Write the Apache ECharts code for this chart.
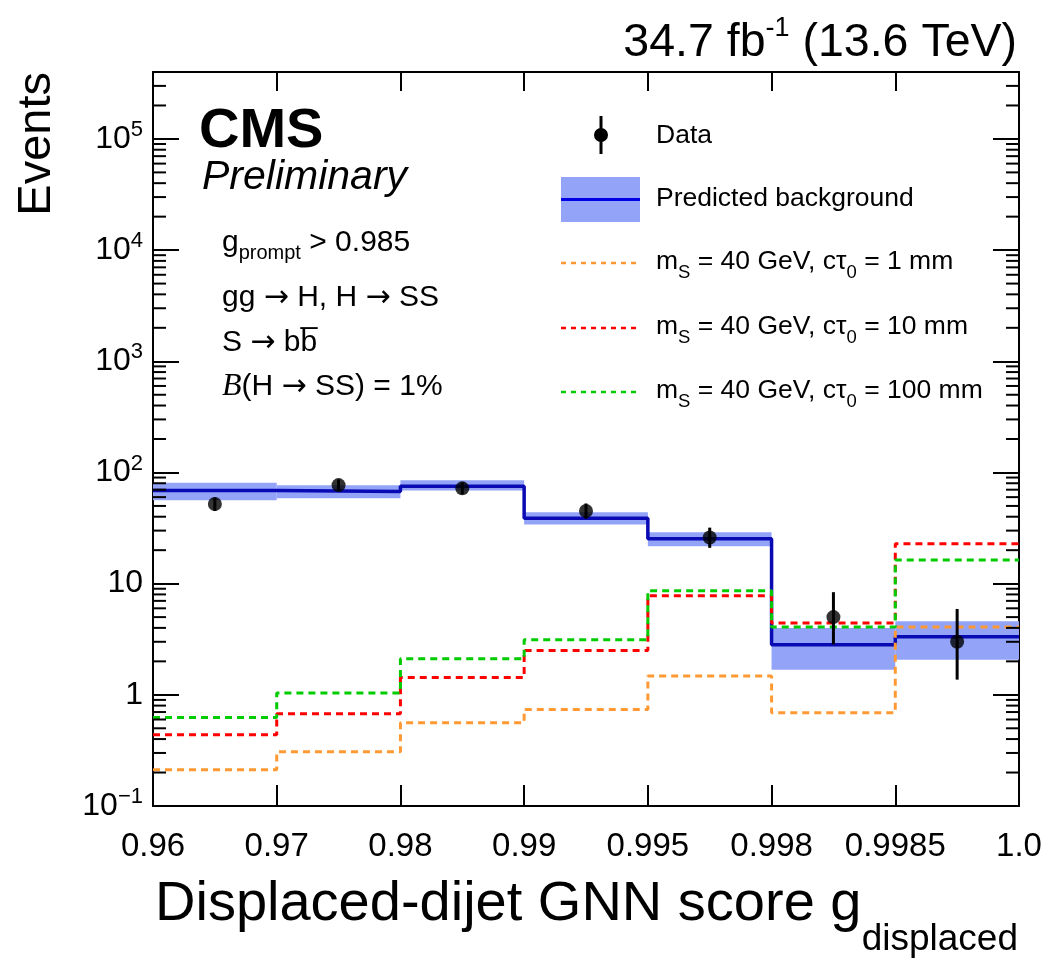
<!DOCTYPE html>
<html><head><meta charset="utf-8">
<script src="https://cdn.jsdelivr.net/npm/echarts@6/dist/echarts.min.js"></script>
<style>html,body{margin:0;padding:0;background:#fff}#c{width:1047px;height:960px}</style>
</head><body><div id="c"></div>
<script>
// ---- data ----
const binEdgeLabels = ['0.96','0.97','0.98','0.99','0.995','0.998','0.9985','1.0'];
const bkgValues = [69, 67.5, 75, 38.7, 25.4, 2.82, 3.33];
const bkgUp     = [80.7, 76.6, 85.3, 43.8, 29.0, 4.0, 4.58];
const bkgDown   = [56.2, 58.5, 69.0, 34.0, 21.7, 1.68, 2.07];
const dataValues = [52, 77, 72, 45, 26, 5, 3];
const dataUp     = [59.6, 86.6, 81.5, 52.6, 31.9, 8.38, 5.92];
const dataDown   = [45.0, 68.3, 63.6, 38.3, 21.0, 2.84, 1.37];
const sig1mm   = [0.212, 0.308, 0.56, 0.738, 1.48, 0.689, 4.07];
const sig10mm  = [0.437, 0.675, 1.43, 2.51, 7.8, 4.43, 22.8];
const sig100mm = [0.625, 1.04, 2.11, 3.13, 8.65, 4.07, 16.3];
const yMajorTicks = [0.1, 1, 10, 100, 1000, 10000, 100000];
const yMin = 0.1, yMax = 4e5;

const FONT = 'Liberation Sans, Arial, Helvetica, sans-serif';
const ARROWFONT = 'DejaVu Sans, sans-serif';
const BAND = '#93a3f8', BLUE = '#0a0ab4', ORANGE = '#ff9933', RED = '#ff0000', GREEN = '#00cc00';

function stepData(vals){ const d = vals.map((v,i)=>[i,v]); d.push([vals.length, vals[vals.length-1]]); return d; }

// minor tick positions of the log axis
const minorTicks = [];
for (let k=-1;k<=5;k++) for (let m=2;m<=9;m++){ const v=m*Math.pow(10,k); if(v<yMax) minorTicks.push([0,v]); }

const chart = echarts.init(document.getElementById('c'), null, {renderer:'canvas'});
const nBins = binEdgeLabels.length - 1;

function yLabel(v){
  const e = Math.round(Math.log10(v));
  if (Math.abs(v/Math.pow(10,e)-1) > 1e-6) return '';
  if (e===0) return '1';
  if (e===1) return '10';
  return '10{sup|' + (e<0 ? '\u2212'+(-e) : e) + '}';
}

const AF = 30, SF = 20;
const annRich = {
  n:{fontSize:AF, fontFamily:FONT, fill:'#000', lineHeight:40},
  s:{fontSize:SF, fontFamily:FONT, fill:'#000', verticalAlign:'bottom', lineHeight:SF},
  a:{fontSize:AF, fontFamily:ARROWFONT, fill:'#000', lineHeight:40},
  b:{fontSize:AF+2, fontFamily:'Liberation Serif, serif', fontStyle:'italic', fill:'#000', lineHeight:40}
};
const LF = 26.5;
const legRich = {
  n:{fontSize:LF, fontFamily:FONT, fill:'#000', lineHeight:40},
  s:{fontSize:18.5, fontFamily:FONT, fill:'#000', verticalAlign:'bottom', lineHeight:18}
};

const option = {
  animation:false,
  backgroundColor:'#fff',
  grid:{left:153, right:28, top:72, bottom:154},
  xAxis:[{
    type:'value', min:0, max:nBins, interval:1, position:'bottom',
    axisLine:{onZero:false, lineStyle:{color:'#000', width:2}},
    axisTick:{inside:true, length:21, lineStyle:{color:'#000', width:2}},
    axisLabel:{formatter:v=>binEdgeLabels[Math.round(v)], fontSize:33, fontFamily:FONT, color:'#000', margin:24},
    splitLine:{show:false}
  },{
    type:'value', min:0, max:nBins, interval:1, position:'top',
    axisLine:{onZero:false, lineStyle:{color:'#000', width:2}},
    axisTick:{inside:true, length:19, lineStyle:{color:'#000', width:2}},
    axisLabel:{show:false}, splitLine:{show:false}
  }],
  yAxis:[{
    type:'log', logBase:10, min:yMin, max:yMax, position:'left',
    axisLine:{show:true, onZero:false, lineStyle:{color:'#000', width:2}},
    axisTick:{show:true, inside:true, length:26, customValues:yMajorTicks, lineStyle:{color:'#000', width:2}},
    axisLabel:{formatter:yLabel, customValues:yMajorTicks, fontSize:32, fontFamily:FONT, color:'#000', margin:10, lineHeight:40,
      rich:{sup:{fontSize:22, fontFamily:FONT, color:'#000', verticalAlign:'top', lineHeight:26}}},
    splitLine:{show:false}
  },{
    type:'log', logBase:10, min:yMin, max:yMax, position:'right',
    axisLine:{show:true, onZero:false, lineStyle:{color:'#000', width:2}},
    axisTick:{show:true, inside:true, length:26, customValues:yMajorTicks, lineStyle:{color:'#000', width:2}},
    axisLabel:{show:false}, splitLine:{show:false}
  }],
  series:[
    { type:'custom', name:'band', z:1, xAxisIndex:0, yAxisIndex:0,
      data: bkgUp.map((u,i)=>[i, bkgDown[i], u]),
      renderItem:(params, api)=>{
        const p0 = api.coord([api.value(0), api.value(2)]);
        const p1 = api.coord([api.value(0)+1, api.value(1)]);
        return {type:'rect', shape:{x:p0[0], y:p0[1], width:p1[0]-p0[0], height:p1[1]-p0[1]}, style:{fill:BAND}};
      }
    },
    { type:'line', name:'Predicted background', z:3, step:'end', symbol:'none', data:stepData(bkgValues),
      lineStyle:{color:BLUE, width:3.5} },
    { type:'line', name:'1mm', z:4, step:'end', symbol:'none', data:stepData(sig1mm),
      lineStyle:{color:ORANGE, width:3, type:[7,5]} },
    { type:'line', name:'10mm', z:4, step:'end', symbol:'none', data:stepData(sig10mm),
      lineStyle:{color:RED, width:3, type:[7,5]} },
    { type:'line', name:'100mm', z:4, step:'end', symbol:'none', data:stepData(sig100mm),
      lineStyle:{color:GREEN, width:3, type:[7,5]} },
    { type:'custom', name:'err', z:5,
      data: dataValues.map((v,i)=>[i+0.5, dataDown[i], dataUp[i]]),
      renderItem:(params, api)=>{
        const a = api.coord([api.value(0), api.value(1)]);
        const b = api.coord([api.value(0), api.value(2)]);
        return {type:'line', shape:{x1:a[0], y1:a[1], x2:b[0], y2:b[1]}, style:{stroke:'#000', lineWidth:3}};
      }
    },
    { type:'scatter', name:'Data', z:6, symbol:'circle', symbolSize:14, data:dataValues.map((v,i)=>[i+0.5, v]),
      itemStyle:{color:'#000'} },
    { type:'custom', name:'minor', z:7, silent:true, data:minorTicks,
      renderItem:(params, api)=>{
        const l = api.coord([0, api.value(1)]);
        const r = api.coord([nBins, api.value(1)]);
        return {type:'group', children:[
          {type:'line', shape:{x1:l[0], y1:l[1], x2:l[0]+13, y2:l[1]}, style:{stroke:'#000', lineWidth:2}},
          {type:'line', shape:{x1:r[0]-13, y1:r[1], x2:r[0], y2:r[1]}, style:{stroke:'#000', lineWidth:2}}
        ]};
      }
    }
  ],
  graphic:[
    // title
    {type:'text', x:1017, y:43, style:{text:'34.7 fb{sup|-1} (13.6 TeV)', align:'right', verticalAlign:'middle', fill:'#000',
      fontSize:46.5, fontFamily:FONT, lineHeight:56, rich:{sup:{fontSize:27, fontFamily:FONT, fill:'#000', verticalAlign:'top', lineHeight:34}}}},
    // axis titles
    {type:'text', x:155, y:905, style:{text:'Displaced-dijet GNN score g', align:'left', verticalAlign:'middle', fill:'#000', fontSize:56, fontFamily:FONT}},
    {type:'text', x:1018, y:940, style:{text:'displaced', align:'right', verticalAlign:'middle', fill:'#000', fontSize:37, fontFamily:FONT}},
    {type:'text', x:37, y:72, rotation:Math.PI/2, style:{text:'Events', align:'right', verticalAlign:'middle', fill:'#000', fontSize:47, fontFamily:FONT}},
    // CMS label
    {type:'text', x:199, y:132, style:{text:'CMS', align:'left', verticalAlign:'middle', fill:'#000', fontSize:56, fontWeight:'bold', fontFamily:FONT}},
    {type:'text', x:202, y:178, style:{text:'Preliminary', align:'left', verticalAlign:'middle', fill:'#000', fontSize:41, fontStyle:'italic', fontFamily:FONT}},
    // annotations
    {type:'text', x:222, y:243, style:{text:'{n|g}{s|prompt}{n| > 0.985}', align:'left', verticalAlign:'middle', rich:annRich}},
    {type:'text', x:222, y:298, style:{text:'{n|gg }{a|\u2192}{n| H, H }{a|\u2192}{n| SS}', align:'left', verticalAlign:'middle', rich:annRich}},
    {type:'text', x:222, y:343, style:{text:'{n|S }{a|\u2192}{n| bb\u0305}', align:'left', verticalAlign:'middle', rich:annRich}},
    {type:'text', x:222, y:387, style:{text:'{b|B}{n|(H }{a|\u2192}{n| SS) = 1%}', align:'left', verticalAlign:'middle', rich:annRich}},
    // legend: data
    {type:'line', shape:{x1:601, y1:116, x2:601, y2:154}, style:{stroke:'#000', lineWidth:3}},
    {type:'circle', shape:{cx:601, cy:135, r:7}, style:{fill:'#000'}},
    {type:'text', x:656, y:136, style:{text:'Data', align:'left', verticalAlign:'middle', fill:'#000', fontSize:LF, fontFamily:FONT}},
    // legend: background
    {type:'rect', shape:{x:561, y:177, width:79, height:45}, style:{fill:BAND}},
    {type:'line', shape:{x1:561, y1:199.5, x2:640, y2:199.5}, style:{stroke:'#0000e6', lineWidth:3}},
    {type:'text', x:656, y:199, style:{text:'Predicted background', align:'left', verticalAlign:'middle', fill:'#000', fontSize:LF, fontFamily:FONT}},
    // legend: signals
    {type:'line', shape:{x1:561, y1:263, x2:640, y2:263}, style:{stroke:ORANGE, lineWidth:2.5, lineDash:[5,5]}},
    {type:'line', shape:{x1:561, y1:328, x2:640, y2:328}, style:{stroke:RED, lineWidth:2.5, lineDash:[5,5]}},
    {type:'line', shape:{x1:561, y1:392, x2:640, y2:392}, style:{stroke:GREEN, lineWidth:2.5, lineDash:[5,5]}},
    ...[['1',262],['10',327],['100',391]].map(([c,y])=>({type:'text', x:656, y:y, style:{
      text:'{n|m}{s|S}{n| = 40 GeV, c\u03c4}{s|0}{n| = '+c+' mm}', align:'left', verticalAlign:'middle', rich:legRich}}))
  ]
};
chart.setOption(option);
</script></body></html>
